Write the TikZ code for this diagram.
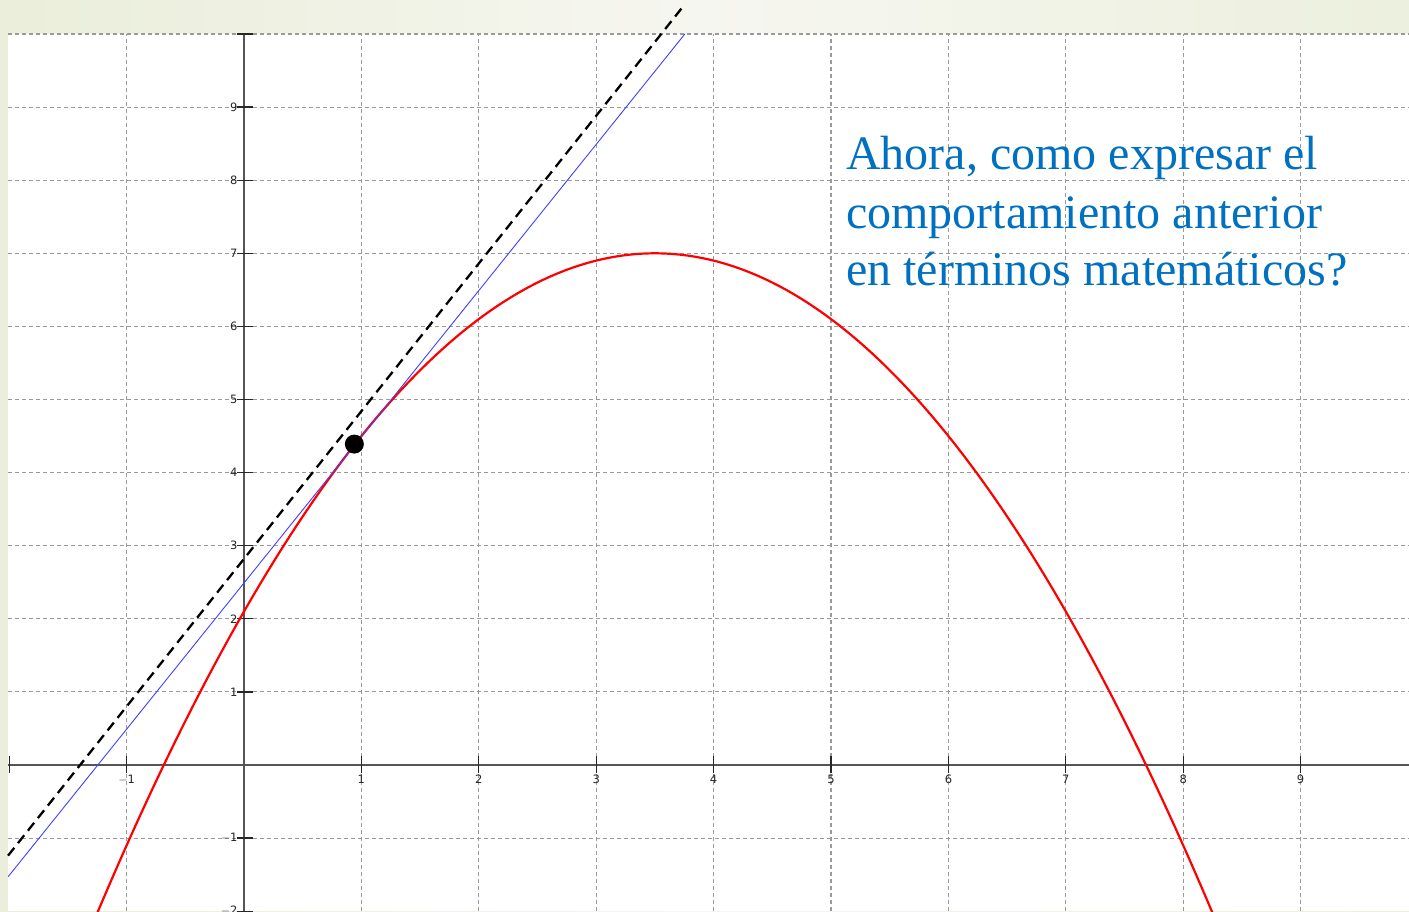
\documentclass[tikz,border=0pt]{standalone}
\usepackage{fontspec}
\setmainfont{Liberation Serif}
\newfontfamily\tickfont{DejaVu Sans}
\definecolor{bgL}{HTML}{EAEEDA}
\definecolor{bgM}{HTML}{F6F6F0}
\definecolor{bgR}{HTML}{ECF0DE}
\definecolor{gridc}{HTML}{9A9A9A}
\definecolor{axisc}{HTML}{555555}
\definecolor{txtblue}{HTML}{0070C0}
\definecolor{tanblue}{HTML}{4040FF}
\begin{document}
\begin{tikzpicture}[x=117.4pt,y=73.1pt,
  gridline/.style={gridc, line width=1.1pt, dash pattern=on 4pt off 3pt},
  axisline/.style={axisc, line width=1.6pt},
  tickmark/.style={black!85, line width=1.3pt},
  ticklab/.style={font=\tickfont\fontsize{11.5}{11.5}\selectfont, inner sep=0.5pt, text=black!85},
  curve/.style={red, line width=2.2pt},
  tangentline/.style={tanblue, line width=0.9pt},
  secantline/.style={black, line width=2.3pt, dash pattern=on 10pt off 6pt},
  question/.style={font=\fontsize{48}{48}\selectfont, text=txtblue, inner sep=0pt, anchor=base west},
]
\path[use as bounding box] (-2.0784,-1.9973) rectangle (9.9233,10.4651);
\shade[left color=bgL, right color=bgR, middle color=bgM] (-2.0784,-1.9973) rectangle (9.9233,10.4651);
\fill[white] (-2.01,-1.9973) rectangle (9.9233,10);
\begin{scope}
\clip (-2.01,-1.9973) rectangle (9.9233,10.02);
\foreach \x in {-1,...,9} \draw[gridline] (\x,-2) -- (\x,10);
\foreach \y in {-1,...,10} \draw[gridline] (-2.01,\y) -- (9.9233,\y);
\draw[axisline] (-2.01,0) -- (9.9233,0);
\draw[axisline] (0,-2) -- (0,10);
\foreach \x in {-2,-1,1,2,...,9} \draw[tickmark] (\x,0.12) -- (\x,-0.11);
\foreach \x/\l in {-1/$-$1,1/1,2/2,3/3,4/4,5/5,6/6,7/7,8/8,9/9}
  \node[ticklab] (xl\x) at (\x,-0.2) {\l};
\foreach \y in {-2,-1,1,2,...,10} \draw[tickmark] (-0.06,\y) -- (0.077,\y);
\foreach \y/\l in {-2/$-$2,-1/$-$1,1/1,2/2,3/3,4/4,5/5,6/6,7/7,8/8,9/9}
  \node[ticklab, anchor=east] (yl\y) at (-0.05,\y) {\l};
\draw[curve, domain=-1.3:8.4, samples=150] plot (\x, {7-0.4*(\x-3.5)^2});
\draw[tangentline] (-2.01,{2.0*(-2.01)+2.49}) -- (3.755,10);
\end{scope}
\draw[secantline] (-2.01,{2.02*(-2.01)+2.82}) -- (3.73,10.356);
\fill[black] (0.94,4.39) circle (9.5pt);
\coordinate (P) at (0.94,4.39);
\node[question] (l1) at (5.128,8.140) {Ahora, como expresar el};
\node[question] (l2) at (5.128,7.346) {comportamiento anterior};
\node[question] (l3) at (5.128,6.566) {en términos matemáticos?};
\end{tikzpicture}
\end{document}
